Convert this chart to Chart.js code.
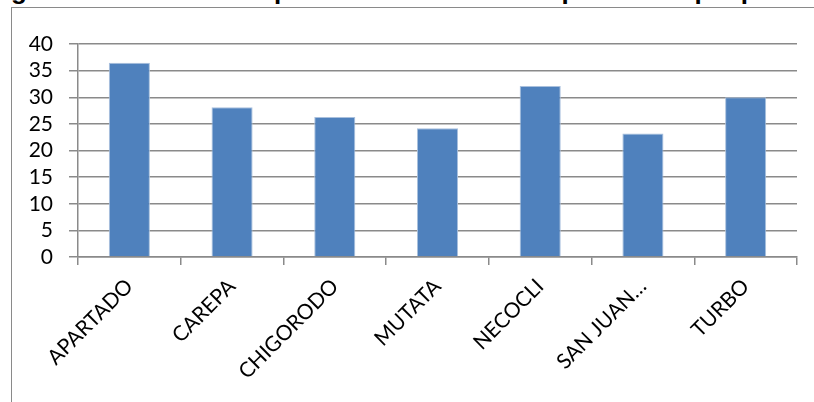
<!DOCTYPE html>
<html>
<head>
<meta charset="utf-8">
<script src="https://cdn.jsdelivr.net/npm/chart.js@4.4.1/dist/chart.umd.min.js"></script>
<style>
  html, body { margin: 0; padding: 0; background: #fff; width: 814px; height: 402px; overflow: hidden; }
  #title { position: absolute; left: -12px; top: -25px; font-family: "Liberation Sans", Arial, sans-serif; font-weight: bold; font-size: 26px; line-height: 30px; color: #000; white-space: nowrap; }
  #frame { position: absolute; left: 11px; top: 7px; width: 900px; height: 500px; border-left: 1.5px solid #8a8a8a; border-top: 1.5px solid #8a8a8a; background: #fff; }
  #c { position: absolute; left: 0; top: 0; }
</style>
</head>
<body>
<div id="title">Figura 4. Resultado en promedio de indicador por municipio presente</div>
<div id="frame"></div>
<canvas id="c" width="814" height="402"></canvas>
<script>
const categories = ["APARTADO", "CAREPA", "CHIGORODO", "MUTATA", "NECOCLI", "SAN JUAN…", "TURBO"];
const values = [36.5, 28.1, 26.3, 24.2, 32.1, 23.2, 30.0];
const yTicks = [0, 5, 10, 15, 20, 25, 30, 35, 40];

const gridGray = '#8a8a8a';
new Chart(document.getElementById('c'), {
  type: 'bar',
  data: {
    labels: categories,
    datasets: [{
      data: values,
      backgroundColor: '#4F81BD',
      borderColor: '#a9c0dd',
      borderWidth: 1,
      barPercentage: 0.4,
      categoryPercentage: 1.0
    }]
  },
  options: {
    responsive: false,
    animation: false,
    devicePixelRatio: 1,
    layout: { padding: { top: 44, right: 17, left: 0, bottom: 0 } },
    plugins: { legend: { display: false }, tooltip: { enabled: false }, title: { display: false } },
    scales: {
      y: {
        min: yTicks[0],
        max: yTicks[yTicks.length - 1],
        afterBuildTicks: (scale) => { scale.ticks = yTicks.map(v => ({ value: v })); },
        afterFit: (scale) => { scale.width = 78; },
        ticks: { color: '#000', font: { family: 'Lato', size: 21 }, padding: 16, autoSkip: false },
        grid: { color: gridGray, lineWidth: 1.5, tickLength: 9 },
        border: { color: gridGray, width: 1.5 }
      },
      x: {
        offset: true,
        afterFit: (scale) => { scale.height = 145; },
        ticks: { color: '#000', font: { family: 'Lato', size: 21 }, minRotation: 45, maxRotation: 45, padding: 9, autoSkip: false },
        grid: { drawOnChartArea: false, color: gridGray, lineWidth: 1.5, tickLength: 8, offset: true },
        border: { color: gridGray, width: 1.5 }
      }
    }
  }
});
</script>
</body>
</html>
